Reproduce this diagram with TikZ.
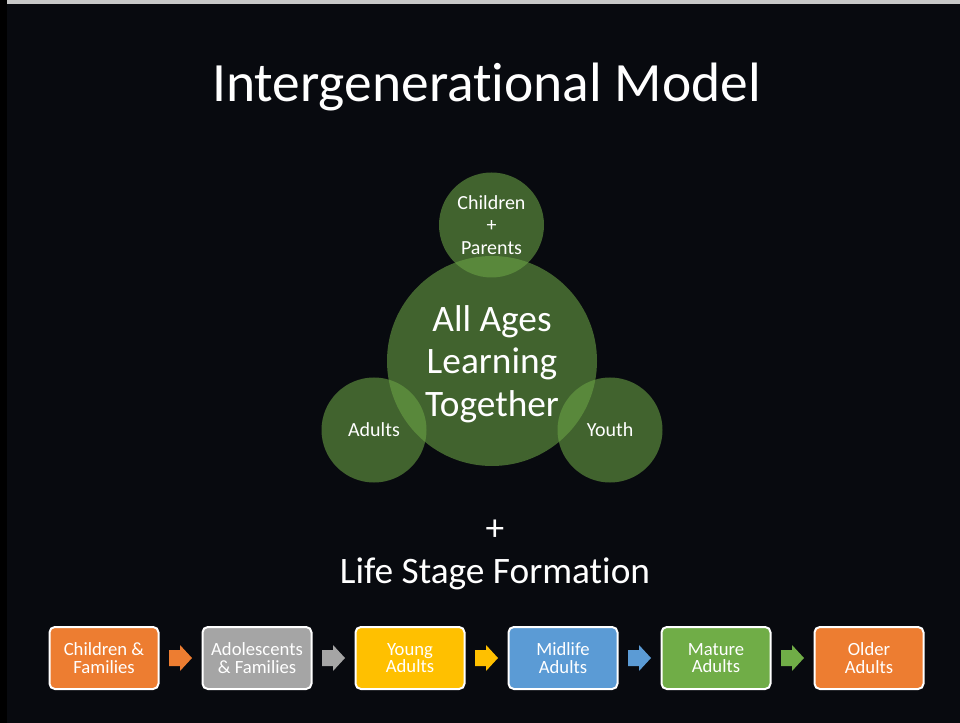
\documentclass[tikz,border=0pt]{standalone}
\usepackage{fontspec}
\setmainfont{Carlito}[Ligatures=NoCommon]
\usepackage{tikz}
\usetikzlibrary{arrows.meta,positioning,calc}
\definecolor{slidebg}{HTML}{080A0F}
\definecolor{stripgray}{HTML}{C8C8C8}
\definecolor{orgA}{HTML}{ED7D31}
\definecolor{grayA}{HTML}{A5A5A5}
\definecolor{gldA}{HTML}{FFC000}
\definecolor{bluA}{HTML}{5B9BD5}
\definecolor{grnA}{HTML}{6BA445}
\definecolor{grnB}{HTML}{70AD47}
\tikzset{
  ring/.style={circle,fill=grnA,fill opacity=0.58,inner sep=0pt},
  smallring/.style={ring,minimum size=78.75pt},
  bigring/.style={ring,minimum size=157.5pt},
  ringtext/.style={text=white,align=center,font=\fontsize{15}{17}\selectfont},
  slidetext/.style={text=white,anchor=base,inner sep=0pt},
  stagebox/.style={draw=white,line width=1.5pt,rounded corners=4pt,minimum width=81.75pt,minimum height=46.5pt,
    text=white,align=center,inner sep=0pt,font=\fontsize{14}{13}\selectfont},
}

\begin{document}
\begin{tikzpicture}[x=0.75pt,y=-0.75pt]
		\fill[black] (0,0) rectangle (960,723);
		\fill[slidebg] (7,4) rectangle (960,723);
		\fill[stripgray] (7,0) rectangle (960,4);
		\node[slidetext,font=\fontsize{41.6}{50}\selectfont] (title) at (486.5,102) {Intergenerational Model};
		\node[bigring] (all) at (492,361) {};
		\node[smallring] (cp) at (491.5,225) {};
		\node[smallring] (adu) at (374,430) {};
		\node[smallring] (yth) at (610,430) {};
		\node[ringtext,font=\fontsize{28}{32}\selectfont] (allt) at (492,364) {All Ages\\Learning\\Together};
		\node[ringtext] (cpt) at (cp) {Children\\+\\Parents};
		\node[ringtext] (adut) at (adu) {Adults};
		\node[ringtext] (ytht) at (yth) {Youth};
		\node[slidetext,font=\fontsize{28}{32}\selectfont] (plus) at (495,540) {+};
		\node[slidetext,font=\fontsize{28}{32}\selectfont] (lsf) at (495,583) {Life Stage Formation};
		\node[stagebox,fill=orgA] (cf) at (104,658) {Children \&\\Families};
		\node[stagebox,fill=grayA,right=31.5pt of cf] (af) {Adolescents\\\& Families};
		\node[stagebox,fill=gldA,right=31.5pt of af] (ya) {Young\\Adults};
		\node[stagebox,fill=bluA,right=31.5pt of ya] (ma) {Midlife\\Adults};
		\node[stagebox,fill=grnB,right=31.5pt of ma] (mt) {Mature\\Adults};
		\node[stagebox,fill=orgA,right=31.5pt of mt] (oa) {Older\\Adults};
		\foreach \a/\b/\c in {cf/af/orgA,af/ya/grayA,ya/ma/gldA,ma/mt/bluA,mt/oa/grnB}
			\fill[\c] ($(\a.east)!0.5!(\b.west)$) ++(-11.5,-8) -- ++(11,0) -- ++(0,-5) -- ++(12,13)
				-- ++(-12,13) -- ++(0,-5) -- ++(-11,0) -- cycle;
	\end{tikzpicture}
\end{document}
